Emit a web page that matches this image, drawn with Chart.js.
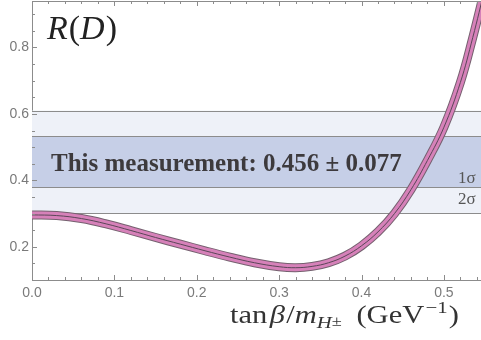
<!DOCTYPE html>
<html lang="en">
<head>
<meta charset="UTF-8" />
<title>R(D) vs tanβ/mH</title>
<script src="https://cdn.jsdelivr.net/npm/chart.js"></script>
<style>
  html, body { margin: 0; padding: 0; background: #fff; }
</style>
</head>
<body>
<canvas id="myChart" width="481" height="340"></canvas>
<script>
// curve: tanβ/m_H (GeV^-1) -> R(D)
const xValues  = [0, 0.03, 0.06, 0.09, 0.12, 0.15, 0.18, 0.21, 0.24, 0.27, 0.30, 0.32, 0.34, 0.36, 0.38, 0.40, 0.42, 0.44, 0.46, 0.48, 0.50, 0.52, 0.535, 0.55];
const rdValues = [0.296, 0.294, 0.285, 0.269, 0.249, 0.228, 0.208, 0.188, 0.169, 0.152, 0.140, 0.137, 0.141, 0.152, 0.172, 0.203, 0.245, 0.300, 0.372, 0.460, 0.560, 0.695, 0.830, 0.980];

const xTicks = [0, 0.1, 0.2, 0.3, 0.4, 0.5];
const yTicks = [0.2, 0.4, 0.6, 0.8];

// measured value bands
const twoSigmaBand = [0.302, 0.610];
const oneSigmaBand = [0.379, 0.533];
const measurementText = "This measurement: 0.456 \u00b1 0.077";

const points = xValues.map((x, i) => ({ x: x, y: rdValues[i] }));

const gray = "#8c8c8c";

// draw a row of [text, style, size, dy, gapAfter] pieces
function drawPieces(ctx, pieces, x0, base, targetW) {
  let w = 0;
  pieces.forEach(([s, st, sz, dy, gap]) => {
    ctx.font = st + " " + sz + "px 'Liberation Serif'";
    w += ctx.measureText(s).width + (gap || 0);
  });
  const sx = targetW ? targetW / w : 1;
  ctx.save();
  ctx.translate(x0, base);
  ctx.scale(sx, 1);
  let x = 0;
  pieces.forEach(([s, st, sz, dy, gap]) => {
    ctx.font = st + " " + sz + "px 'Liberation Serif'";
    ctx.fillText(s, x, dy);
    x += ctx.measureText(s).width + (gap || 0);
  });
  ctx.restore();
}

// bands + label behind the curve
const bandsPlugin = {
  id: "bands",
  beforeDatasetsDraw(chart) {
    const { ctx, chartArea: ca, scales } = chart;
    const y = scales.y;
    ctx.save();
    let t2 = y.getPixelForValue(twoSigmaBand[1]), b2 = y.getPixelForValue(twoSigmaBand[0]);
    let t1 = y.getPixelForValue(oneSigmaBand[1]), b1 = y.getPixelForValue(oneSigmaBand[0]);
    ctx.fillStyle = "#eef1f8";
    ctx.fillRect(ca.left, t2, ca.right - ca.left, b2 - t2);
    ctx.fillStyle = "#c6cfe7";
    ctx.fillRect(ca.left, t1, ca.right - ca.left, b1 - t1);
    ctx.strokeStyle = gray;
    ctx.lineWidth = 1;
    [t2, t1, b1, b2].forEach((p) => {
      ctx.beginPath();
      ctx.moveTo(ca.left, Math.round(p) + 0.5);
      ctx.lineTo(ca.right, Math.round(p) + 0.5);
      ctx.stroke();
    });
    ctx.fillStyle = "#3d3a3d";
    ctx.font = "bold 25px 'Liberation Serif'";
    ctx.textBaseline = "alphabetic";
    ctx.fillText(measurementText, 51, 171);
    ctx.fillStyle = "#555";
    ctx.font = "17px 'Liberation Serif'";
    ctx.fillText("1\u03c3", 458, 183);
    ctx.fillText("2\u03c3", 458, 204);
    ctx.restore();
  },
  afterDraw(chart) {
    const { ctx, chartArea: ca, scales } = chart;
    ctx.save();
    ctx.strokeStyle = gray;
    ctx.lineWidth = 1;
    // top frame
    ctx.beginPath();
    ctx.moveTo(ca.left, ca.top + 0.5);
    ctx.lineTo(ca.right, ca.top + 0.5);
    ctx.stroke();
    // inward ticks
    ctx.beginPath();
    for (let v = 0; v <= 0.545; v += 0.02) {
      const px = Math.round(scales.x.getPixelForValue(v)) + 0.5;
      ctx.moveTo(px, ca.bottom); ctx.lineTo(px, ca.bottom - 3);
      ctx.moveTo(px, ca.top); ctx.lineTo(px, ca.top + 3);
    }
    xTicks.forEach((v) => {
      const px = Math.round(scales.x.getPixelForValue(v)) + 0.5;
      ctx.moveTo(px, ca.bottom); ctx.lineTo(px, ca.bottom - 5);
      ctx.moveTo(px, ca.top); ctx.lineTo(px, ca.top + 5);
    });
    for (let v = 0.1; v <= 0.94; v += 0.05) {
      const py = Math.round(scales.y.getPixelForValue(v)) + 0.5;
      ctx.moveTo(ca.left, py); ctx.lineTo(ca.left + 3, py);
    }
    yTicks.forEach((v) => {
      const py = Math.round(scales.y.getPixelForValue(v)) + 0.5;
      ctx.moveTo(ca.left, py); ctx.lineTo(ca.left + 5, py);
    });
    ctx.stroke();

    ctx.textBaseline = "alphabetic";
    // R(D)
    ctx.fillStyle = "#222";
    drawPieces(ctx, [["R", "italic", 33, 0, 1], ["(", "", 33, 0, 0], ["D", "italic", 33, 0, 1], [")", "", 33, 0, 0]], 47, 39, 70);

    // axis title
    ctx.fillStyle = "#333";
    drawPieces(ctx, [
      ["tan", "", 25, 0, 2], ["\u03b2", "italic", 25, 0, 1], ["/", "", 25, 0, 0], ["m", "italic", 25, 0, 0],
      ["H", "italic", 17, 5, 0], ["\u00b1", "", 15, 3, 12],
      ["(GeV", "", 25, 0, 1], ["\u22121", "", 17, -10, 1], [")", "", 25, 0, 0]
    ], 230, 323, 229);
    ctx.restore();
  }
};

const ctx = document.getElementById("myChart").getContext("2d");
const myChart = new Chart(ctx, {
  type: "line",
  data: {
    datasets: [
      { data: points, borderColor: "#5b4658", borderWidth: 1 },
      { data: points, borderColor: "#d681b9", borderWidth: 7 },
      { data: points, borderColor: "#75606f", borderWidth: 9 }
    ]
  },
  options: {
    responsive: false,
    animation: false,
    devicePixelRatio: 1,
    layout: { padding: { top: 1, right: 0, left: 0, bottom: 0 } },
    elements: {
      point: { radius: 0 },
      line: { tension: 0.4, fill: false }
    },
    plugins: { legend: { display: false }, tooltip: { enabled: false } },
    scales: {
      x: {
        type: "linear",
        min: 0,
        max: 0.545,
        afterBuildTicks: (s) => { s.ticks = xTicks.map((v) => ({ value: v })); },
        afterFit: (s) => { s.height = 60; s.paddingRight = 0; },
        grid: { display: false, drawTicks: false },
        border: { color: gray },
        ticks: {
          callback: (v) => Number(v).toFixed(1),
          color: "#7a7a7a",
          font: { family: "Liberation Sans", size: 14 },
          padding: 5,
          maxRotation: 0,
          autoSkip: false
        }
      },
      y: {
        type: "linear",
        min: 0.1,
        max: 0.94,
        afterBuildTicks: (s) => { s.ticks = yTicks.map((v) => ({ value: v })); },
        afterFit: (s) => { s.width = 32; s.paddingTop = 0; s.paddingBottom = 0; },
        grid: { display: false, drawTicks: false },
        border: { color: gray },
        ticks: {
          callback: (v) => Number(v).toFixed(1),
          color: "#7a7a7a",
          font: { family: "Liberation Sans", size: 14 },
          padding: 3
        }
      }
    }
  },
  plugins: [bandsPlugin]
});
</script>
</body>
</html>
